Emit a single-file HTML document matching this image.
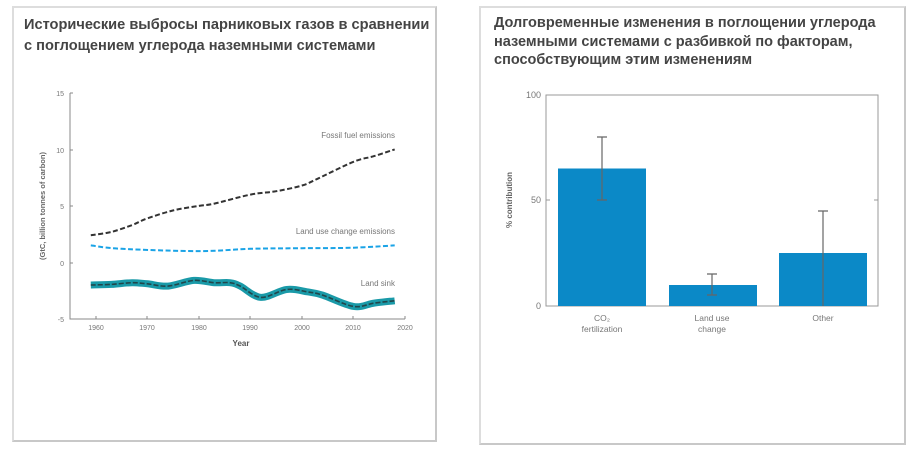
<!DOCTYPE html>
<html><head><meta charset="utf-8"><style>
body{margin:0;width:915px;height:454px;background:#fff;overflow:hidden;font-family:"Liberation Sans","DejaVu Sans",sans-serif}
.p{position:absolute;border:2px solid #c8c8c8;border-top-color:#ddd;border-left-color:#ddd;box-sizing:border-box;background:#fff}
.t{position:absolute;font-weight:bold;color:#444;font-size:14.6px;line-height:21px;white-space:nowrap}
svg{position:absolute;left:0;top:0}
</style></head><body>
<div class="p" style="left:12px;top:6px;width:425px;height:436px"></div>
<div class="p" style="left:479px;top:6px;width:427px;height:439px"></div>
<div class="t" style="left:24px;top:15px">Исторические выбросы парниковых газов в сравнении<br>с поглощением углерода наземными системами</div>
<div class="t" style="left:494px;top:14px;font-size:14.5px;line-height:18.5px">Долговременные изменения в поглощении углерода<br>наземными системами с разбивкой по факторам,<br>способствующим этим изменениям</div>
<svg width="915" height="454" font-family="Liberation Sans, sans-serif">
<g stroke="#888" stroke-width="1" fill="none">
<path d="M70,93V319H405"/>
<path d="M70,93h3M70,150h3M70,206h3M70,263h3M96,319v-3M147,319v-3M199,319v-3M250,319v-3M302,319v-3M353,319v-3M405,319v-3"/>
</g>
<g font-size="7" fill="#777" text-anchor="end">
<text x="64" y="96">15</text><text x="64" y="153">10</text><text x="64" y="209">5</text><text x="64" y="266">0</text><text x="64" y="322">-5</text>
</g>
<g font-size="7" fill="#777" text-anchor="middle">
<text x="96" y="330">1960</text><text x="147" y="330">1970</text><text x="199" y="330">1980</text><text x="250" y="330">1990</text><text x="302" y="330">2000</text><text x="353" y="330">2010</text><text x="405" y="330">2020</text>
<text x="241" y="346" font-weight="bold" font-size="8" fill="#555">Year</text>
</g>
<text transform="translate(45,206) rotate(-90)" font-size="7.5" font-weight="bold" fill="#666" text-anchor="middle">(GtC, billion tonnes of carbon)</text>
<g font-size="8" fill="#777" text-anchor="end">
<text x="395" y="138">Fossil fuel emissions</text>
<text x="395" y="234">Land use change emissions</text>
<text x="395" y="286">Land sink</text>
</g>
<path id="sinkband" fill="none" stroke="#1a9aa8" stroke-width="7" stroke-linejoin="round"/>
<path id="sink" fill="none" stroke="#22454a" stroke-width="1.6" stroke-dasharray="5,2"/>
<path id="fossil" fill="none" stroke="#333" stroke-width="2" stroke-dasharray="5,2.5"/>
<path id="luc" fill="none" stroke="#1aa3e6" stroke-width="2" stroke-dasharray="5,2.5"/>

<g stroke="#999" fill="none"><rect x="546" y="95" width="332" height="211"/>
<path d="M546,200h4M878,200h-4"/></g>
<g font-size="9" fill="#777" text-anchor="end"><text x="541" y="98">100</text><text x="541" y="203">50</text><text x="541" y="309">0</text></g>
<text transform="translate(512,200) rotate(-90)" font-size="8" font-weight="bold" fill="#666" text-anchor="middle">% contribution</text>
<g fill="#0b89c7">
<rect x="558" y="168.5" width="88" height="137.5"/>
<rect x="669" y="285" width="88" height="21"/>
<rect x="779" y="253" width="88" height="53"/>
</g>
<g stroke="#666" stroke-width="1.2" fill="none">
<path d="M602,137V200M597,137h10M597,200h10"/>
<path d="M712,274V295M707,274h10M707,295h10"/>
<path d="M823,211V306M818,211h10"/>
</g>
<g font-size="8.5" fill="#777" text-anchor="middle">
<text x="602" y="321">CO₂</text><text x="602" y="332">fertilization</text>
<text x="712" y="321">Land use</text><text x="712" y="332">change</text>
<text x="823" y="321">Other</text>
</g>
</svg>
<script>
function X(y){return 96+(y-1960)*5.15}function Y(v){return 263.5-v*11.3}
function path(pts){var p=pts.map(function(a){return [X(a[0]),Y(a[1])]});var d="M"+p[0][0].toFixed(1)+","+p[0][1].toFixed(1);
for(var i=0;i<p.length-1;i++){var p0=p[i-1]||p[i],p1=p[i],p2=p[i+1],p3=p[i+2]||p2;
d+="C"+(p1[0]+(p2[0]-p0[0])/6).toFixed(1)+","+(p1[1]+(p2[1]-p0[1])/6).toFixed(1)+" "+(p2[0]-(p3[0]-p1[0])/6).toFixed(1)+","+(p2[1]-(p3[1]-p1[1])/6).toFixed(1)+" "+p2[0].toFixed(1)+","+p2[1].toFixed(1);}return d}
var sink=[[1959,-1.9],[1963,-1.85],[1967,-1.7],[1970,-1.8],[1974,-2.0],[1979,-1.5],[1983,-1.7],[1986,-1.7],[1988,-2.0],[1992,-3.0],[1997,-2.3],[2001,-2.5],[2004,-2.8],[2010,-3.8],[2014,-3.5],[2018,-3.3]];
var fos=[[1959,2.5],[1963,2.8],[1967,3.4],[1970,4.0],[1975,4.7],[1980,5.1],[1983,5.3],[1990,6.1],[1995,6.4],[2000,6.9],[2003,7.5],[2010,9.0],[2014,9.5],[2018,10.1]];
var luc=[[1959,1.6],[1965,1.3],[1980,1.1],[1990,1.3],[2000,1.35],[2010,1.4],[2018,1.6]];
document.getElementById("sinkband").setAttribute("d",path(sink));
document.getElementById("sink").setAttribute("d",path(sink));
document.getElementById("fossil").setAttribute("d",path(fos));
document.getElementById("luc").setAttribute("d",path(luc));
</script>
</body></html>
